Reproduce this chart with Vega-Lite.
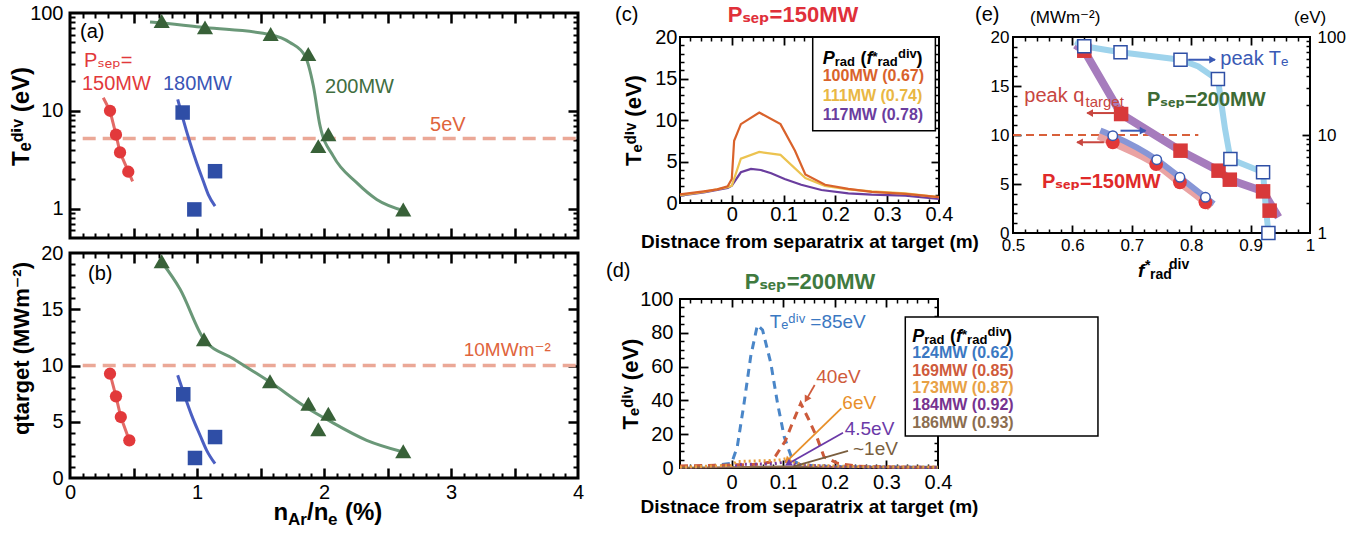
{
"$schema":"https://vega.github.io/schema/vega-lite/v6.json",
"padding":{"left":7,"top":1,"right":5,"bottom":2},
"background":"white",
"config":{"font":"Liberation Sans, DejaVu Sans, sans-serif","view":{"stroke":"black","strokeWidth":2},"axis":{"domain":false,"grid":false,"tickColor":"black","labelColor":"black","labelFlush":false,"labelOverlap":false,"titleColor":"black","titleFontWeight":"bold","minExtent":0,"maxExtent":0},"text":{"align":"left","baseline":"middle"}},
"columns":2,"align":"none","spacing":19,
"resolve":{"scale":{"color":"independent"}},
"concat":[
{"spacing":0,"resolve":{"scale":{"color":"independent"}},"vconcat":[
{"width":508,"height":225,"view":{"stroke":"black","strokeWidth":3},
"resolve":{"scale":{"x":"independent","y":"independent","color":"independent"}},
"layer":[
{"data":{"values":[{}]},"mark":{"type":"point","opacity":0},"encoding":{"x":{"datum":0,"type":"quantitative","scale":{"domain":[0,4],"nice":false,"zero":false},"axis":null},"y":{"datum":1,"type":"quantitative","scale":{"type":"log","domain":[0.5,100],"nice":false},"axis":{"orient":"left","values":[1,10,100],"format":"d","ticks":false,"labelPadding":7,"labelFontSize":20,"title":"Tₑᵈⁱᵛ (eV)","titleFontSize":24,"titlePadding":1,"titleY":103,"minExtent":36,"maxExtent":36}}}},
{"data":{"values":[{}]},"mark":{"type":"point","opacity":0},"encoding":{"x":{"datum":0,"type":"quantitative","scale":{"domain":[0,4],"nice":false,"zero":false},"axis":{"orient":"bottom","values":[0.5,1,1.5,2,2.5,3,3.5],"labels":false,"tickSize":-10,"tickWidth":2.5,"title":null}},"y":{"datum":1,"type":"quantitative","scale":{"type":"log","domain":[0.5,100],"nice":false},"axis":{"orient":"left","values":[1,10],"labels":false,"tickSize":-10,"tickWidth":2.5,"title":null}}}},
{"data":{"values":[{}]},"mark":{"type":"point","opacity":0},"encoding":{"x":{"datum":0,"type":"quantitative","scale":{"domain":[0,4],"nice":false,"zero":false},"axis":{"orient":"bottom","values":[0.1,0.2,0.3,0.4,0.6,0.7,0.8,0.9,1.1,1.2,1.3,1.4,1.6,1.7,1.8,1.9,2.1,2.2,2.3,2.4,2.6,2.7,2.8,2.9,3.1,3.2,3.3,3.4,3.6,3.7,3.8,3.9],"labels":false,"tickSize":-5,"tickWidth":2,"title":null}},"y":{"datum":1,"type":"quantitative","scale":{"type":"log","domain":[0.5,100],"nice":false},"axis":{"orient":"left","values":[0.6,0.7,0.8,0.9,2,3,4,5,6,7,8,9,20,30,40,50,60,70,80,90],"labels":false,"tickSize":-5,"tickWidth":2,"title":null}}}},
{"data":{"values":[{}]},"mark":{"type":"point","opacity":0},"encoding":{"x":{"datum":0,"type":"quantitative","scale":{"domain":[0,4],"nice":false,"zero":false},"axis":{"orient":"top","values":[0.5,1,1.5,2,2.5,3,3.5],"labels":false,"tickSize":-10,"tickWidth":2.5,"title":null}},"y":{"datum":1,"type":"quantitative","scale":{"type":"log","domain":[0.5,100],"nice":false},"axis":{"orient":"right","values":[1,10],"labels":false,"tickSize":-10,"tickWidth":2.5,"title":null}}}},
{"data":{"values":[{}]},"mark":{"type":"point","opacity":0},"encoding":{"x":{"datum":0,"type":"quantitative","scale":{"domain":[0,4],"nice":false,"zero":false},"axis":{"orient":"top","values":[0.1,0.2,0.3,0.4,0.6,0.7,0.8,0.9,1.1,1.2,1.3,1.4,1.6,1.7,1.8,1.9,2.1,2.2,2.3,2.4,2.6,2.7,2.8,2.9,3.1,3.2,3.3,3.4,3.6,3.7,3.8,3.9],"labels":false,"tickSize":-5,"tickWidth":2,"title":null}},"y":{"datum":1,"type":"quantitative","scale":{"type":"log","domain":[0.5,100],"nice":false},"axis":{"orient":"right","values":[0.6,0.7,0.8,0.9,2,3,4,5,6,7,8,9,20,30,40,50,60,70,80,90],"labels":false,"tickSize":-5,"tickWidth":2,"title":null}}}},
{"encoding":{"x":{"field":"x","type":"quantitative","scale":{"domain":[0,4],"nice":false,"zero":false},"axis":null},"y":{"field":"y","type":"quantitative","scale":{"type":"log","domain":[0.5,100],"nice":false},"axis":null}},
"layer":[
{"data":{"values":[{"x":0.1,"x2":4,"y":5.2}]},"mark":{"type":"rule","color":"#eba897","strokeWidth":3.5,"strokeDash":[13,7]},"encoding":{"x2":{"field":"x2"}}},
{"data":{"values":[{"x":0.262,"y":13.6},{"x":0.315,"y":10},{"x":0.362,"y":5.7},{"x":0.394,"y":3.75},{"x":0.459,"y":2.4},{"x":0.493,"y":1.9}]},"mark":{"type":"line","color":"#e36a66","strokeWidth":3},"encoding":{}},
{"data":{"values":[{"x":0.848,"y":13.1},{"x":0.887,"y":8.5},{"x":0.945,"y":4.72},{"x":0.997,"y":2.94},{"x":1.05,"y":1.9},{"x":1.089,"y":1.39},{"x":1.142,"y":1.06}]},"mark":{"type":"line","color":"#4b5fc2","strokeWidth":3,"interpolate":"monotone"},"encoding":{}},
{"data":{"values":[{"x":0.63,"y":81},{"x":0.722,"y":79},{"x":1.063,"y":71},{"x":1.58,"y":60},{"x":1.732,"y":50},{"x":1.85,"y":36.5},{"x":1.916,"y":18},{"x":1.969,"y":7},{"x":2.073,"y":3.44},{"x":2.257,"y":1.84},{"x":2.415,"y":1.24},{"x":2.63,"y":0.95}]},"mark":{"type":"line","color":"#6a9878","strokeWidth":3,"interpolate":"monotone"},"encoding":{}},
{"data":{"values":[{"x":0.315,"y":10},{"x":0.362,"y":5.7},{"x":0.394,"y":3.75},{"x":0.459,"y":2.38}]},"mark":{"type":"point","shape":"circle","filled":true,"size":150,"color":"#e2393b","opacity":1}},
{"data":{"values":[{"x":0.887,"y":9.6},{"x":1.142,"y":2.41},{"x":0.979,"y":0.98}]},"mark":{"type":"point","shape":"square","filled":true,"size":210,"color":"#2f4ea6","opacity":1}},
{"data":{"values":[{"x":0.722,"y":83},{"x":1.063,"y":71.3},{"x":1.58,"y":61},{"x":1.876,"y":38},{"x":1.955,"y":4.35},{"x":2.034,"y":5.74},{"x":2.624,"y":0.98}]},"mark":{"type":"point","shape":"triangle-up","filled":true,"size":260,"color":"#386138","opacity":1}},
{"data":{"values":[{"x":0.079,"y":63.9,"t":"(a)","ga":"k"},{"x":0.11,"y":32.2,"t":"Pₛₑₚ=","ga":"r"},{"x":0.094,"y":18.7,"t":"150MW","ga":"r"},{"x":0.732,"y":18.7,"t":"180MW","ga":"b"},{"x":2.008,"y":17.4,"t":"200MW","ga":"g"},{"x":2.835,"y":7.1,"t":"5eV","ga":"o"}]},"mark":{"type":"text","fontSize":20},"encoding":{"text":{"field":"t"},"color":{"field":"ga","type":"nominal","scale":{"domain":["k","r","b","g","o"],"range":["#000000","#e2393b","#3a55b5","#3f6e3f","#e0643c"]},"legend":null}}}
]}
]},
{"width":508,"height":225,"view":{"stroke":"black","strokeWidth":3},
"resolve":{"scale":{"x":"independent","y":"independent","color":"independent"}},
"layer":[
{"data":{"values":[{}]},"mark":{"type":"point","opacity":0},"encoding":{"x":{"datum":0,"type":"quantitative","scale":{"domain":[0,4],"nice":false,"zero":false},"axis":{"orient":"bottom","values":[0,1,2,3,4],"format":"d","ticks":false,"labelPadding":4,"labelFontSize":20,"title":null,"minExtent":24,"maxExtent":24}},"y":{"datum":0,"type":"quantitative","scale":{"domain":[0,20],"nice":false,"zero":false},"axis":{"orient":"left","values":[0,5,10,15,20],"ticks":false,"labelPadding":7,"labelFontSize":20,"title":"qtarget (MWm⁻²)","titleFontSize":22,"titlePadding":1,"titleY":95,"minExtent":36,"maxExtent":36}}}},
{"data":{"values":[{}]},"mark":{"type":"point","opacity":0},"encoding":{"x":{"datum":0,"type":"quantitative","scale":{"domain":[0,4],"nice":false,"zero":false},"axis":{"orient":"bottom","values":[0.5,1,1.5,2,2.5,3,3.5],"labels":false,"tickSize":-10,"tickWidth":2.5,"title":null}},"y":{"datum":0,"type":"quantitative","scale":{"domain":[0,20],"nice":false,"zero":false},"axis":{"orient":"left","values":[5,10,15],"labels":false,"tickSize":-10,"tickWidth":2.5,"title":null}}}},
{"data":{"values":[{}]},"mark":{"type":"point","opacity":0},"encoding":{"x":{"datum":0,"type":"quantitative","scale":{"domain":[0,4],"nice":false,"zero":false},"axis":{"orient":"bottom","values":[0.1,0.2,0.3,0.4,0.6,0.7,0.8,0.9,1.1,1.2,1.3,1.4,1.6,1.7,1.8,1.9,2.1,2.2,2.3,2.4,2.6,2.7,2.8,2.9,3.1,3.2,3.3,3.4,3.6,3.7,3.8,3.9],"labels":false,"tickSize":-5,"tickWidth":2,"title":null}},"y":{"datum":0,"type":"quantitative","scale":{"domain":[0,20],"nice":false,"zero":false},"axis":{"orient":"left","values":[1,2,3,4,6,7,8,9,11,12,13,14,16,17,18,19],"labels":false,"tickSize":-5,"tickWidth":2,"title":null}}}},
{"data":{"values":[{}]},"mark":{"type":"point","opacity":0},"encoding":{"x":{"datum":0,"type":"quantitative","scale":{"domain":[0,4],"nice":false,"zero":false},"axis":{"orient":"top","values":[0.5,1,1.5,2,2.5,3,3.5],"labels":false,"tickSize":-10,"tickWidth":2.5,"title":null}},"y":{"datum":0,"type":"quantitative","scale":{"domain":[0,20],"nice":false,"zero":false},"axis":{"orient":"right","values":[5,10,15],"labels":false,"tickSize":-10,"tickWidth":2.5,"title":null}}}},
{"data":{"values":[{}]},"mark":{"type":"point","opacity":0},"encoding":{"x":{"datum":0,"type":"quantitative","scale":{"domain":[0,4],"nice":false,"zero":false},"axis":{"orient":"top","values":[0.1,0.2,0.3,0.4,0.6,0.7,0.8,0.9,1.1,1.2,1.3,1.4,1.6,1.7,1.8,1.9,2.1,2.2,2.3,2.4,2.6,2.7,2.8,2.9,3.1,3.2,3.3,3.4,3.6,3.7,3.8,3.9],"labels":false,"tickSize":-5,"tickWidth":2,"title":null}},"y":{"datum":0,"type":"quantitative","scale":{"domain":[0,20],"nice":false,"zero":false},"axis":{"orient":"right","values":[1,2,3,4,6,7,8,9,11,12,13,14,16,17,18,19],"labels":false,"tickSize":-5,"tickWidth":2,"title":null}}}},
{"encoding":{"x":{"field":"x","type":"quantitative","scale":{"domain":[0,4],"nice":false,"zero":false},"axis":null},"y":{"field":"y","type":"quantitative","scale":{"domain":[0,20],"nice":false,"zero":false},"axis":null}},
"layer":[
{"data":{"values":[{"x":0.1,"x2":4,"y":10}]},"mark":{"type":"rule","color":"#eba897","strokeWidth":3.5,"strokeDash":[13,7]},"encoding":{"x2":{"field":"x2"}}},
{"data":{"values":[{"x":0.289,"y":9.6},{"x":0.315,"y":9.27},{"x":0.362,"y":7.26},{"x":0.4,"y":5.42},{"x":0.467,"y":3.35},{"x":0.486,"y":3.0}]},"mark":{"type":"line","color":"#e36a66","strokeWidth":3},"encoding":{}},
{"data":{"values":[{"x":0.848,"y":9.13},{"x":0.906,"y":7.2},{"x":0.958,"y":5.57},{"x":1.024,"y":3.8},{"x":1.076,"y":2.46},{"x":1.142,"y":1.27}]},"mark":{"type":"line","color":"#4b5fc2","strokeWidth":3,"interpolate":"monotone"},"encoding":{}},
{"data":{"values":[{"x":0.722,"y":19.2},{"x":0.866,"y":16.8},{"x":1.055,"y":12.33},{"x":1.286,"y":10.6},{"x":1.575,"y":8.53},{"x":1.877,"y":6.16},{"x":2.034,"y":5.13},{"x":2.336,"y":3.35},{"x":2.624,"y":2.31}]},"mark":{"type":"line","color":"#6a9878","strokeWidth":3,"interpolate":"monotone"},"encoding":{}},
{"data":{"values":[{"x":0.315,"y":9.27},{"x":0.362,"y":7.26},{"x":0.4,"y":5.42},{"x":0.467,"y":3.35}]},"mark":{"type":"point","shape":"circle","filled":true,"size":150,"color":"#e2393b","opacity":1}},
{"data":{"values":[{"x":0.892,"y":7.44},{"x":1.142,"y":3.64},{"x":0.984,"y":1.78}]},"mark":{"type":"point","shape":"square","filled":true,"size":210,"color":"#2f4ea6","opacity":1}},
{"data":{"values":[{"x":0.722,"y":19.26},{"x":1.055,"y":12.33},{"x":1.575,"y":8.6},{"x":1.877,"y":6.6},{"x":1.955,"y":4.33},{"x":2.034,"y":5.72},{"x":2.624,"y":2.37}]},"mark":{"type":"point","shape":"triangle-up","filled":true,"size":260,"color":"#386138","opacity":1}},
{"data":{"values":[{"x":0.142,"y":18.16,"t":"(b)"}]},"mark":{"type":"text","fontSize":20,"color":"black"},"encoding":{"text":{"field":"t"}}},
{"data":{"values":[{"x":3.1,"y":11.38,"t":"10MWm⁻²"}]},"mark":{"type":"text","fontSize":19,"color":"#e0643c"},"encoding":{"text":{"field":"t"}}},
{"data":{"values":[{"x":1.602,"y":-3.15,"t":"n"},{"x":1.866,"y":-3.15,"t":"/n"},{"x":2.165,"y":-3.15,"t":"(%)"}]},"mark":{"type":"text","fontSize":24,"fontWeight":"bold","color":"black"},"encoding":{"text":{"field":"t"}}},
{"data":{"values":[{"x":1.717,"y":-3.75,"t":"Ar"},{"x":2.031,"y":-3.75,"t":"e"}]},"mark":{"type":"text","fontSize":17,"fontWeight":"bold","color":"black"},"encoding":{"text":{"field":"t"}}}
]}
]}
]},
{"spacing":0,"resolve":{"scale":{"color":"independent"}},"vconcat":[
{"width":645,"height":1,"view":{"stroke":null},
"encoding":{"x":{"field":"x","type":"quantitative","scale":{"domain":[-0.1,1.145],"nice":false,"zero":false},"axis":null},"y":{"field":"y","type":"quantitative","scale":{"domain":[0,1],"nice":false,"zero":false},"axis":null}},
"layer":[
{"data":{"values":[{"x":-0.2255,"y":-1,"t":"(c)"},{"x":0.4695,"y":-1,"t":"(e)"}]},"mark":{"type":"text","fontSize":20,"color":"black"},"encoding":{"text":{"field":"t"}}},
{"data":{"values":[{"x":0.1181,"y":-1,"t":"Pₛₑₚ=150MW"}]},"mark":{"type":"text","fontSize":22,"fontWeight":"bold","color":"#e0303a","align":"center"},"encoding":{"text":{"field":"t"}}},
{"data":{"values":[{"x":0.5757,"y":-4,"t":"(MWm⁻²)"},{"x":1.0853,"y":-4,"t":"(eV)"}]},"mark":{"type":"text","fontSize":17,"color":"black"},"encoding":{"text":{"field":"t"}}}
]},
{"columns":2,"align":"none","spacing":-111,"resolve":{"scale":{"color":"independent"}},"concat":[
{"columns":1,"align":"none","spacing":7,"resolve":{"scale":{"color":"independent"}},"concat":[
{"width":259,"height":166,
"resolve":{"scale":{"x":"independent","y":"independent","color":"independent"}},
"layer":[
{"data":{"values":[{}]},"mark":{"type":"point","opacity":0},"encoding":{"x":{"datum":0,"type":"quantitative","scale":{"domain":[-0.1,0.4],"nice":false,"zero":false},"axis":{"orient":"bottom","values":[0,0.1,0.2,0.3,0.4],"format":".1~f","ticks":false,"labelPadding":1,"labelFontSize":20,"title":"Distnace from separatrix at target (m)","titleFontSize":19,"titlePadding":8,"minExtent":21,"maxExtent":21}},"y":{"datum":0,"type":"quantitative","scale":{"domain":[0,20],"nice":false,"zero":false},"axis":{"orient":"left","values":[0,5,10,15,20],"ticks":false,"labelPadding":3,"labelFontSize":20,"title":"Tₑᵈⁱᵛ (eV)","titleFontSize":22,"titlePadding":9,"minExtent":26,"maxExtent":26}}}},
{"data":{"values":[{}]},"mark":{"type":"point","opacity":0},"encoding":{"x":{"datum":0,"type":"quantitative","scale":{"domain":[-0.1,0.4],"nice":false,"zero":false},"axis":{"orient":"bottom","values":[0,0.1,0.2,0.3],"labels":false,"tickSize":-8,"tickWidth":1.8,"title":null}},"y":{"datum":0,"type":"quantitative","scale":{"domain":[0,20],"nice":false,"zero":false},"axis":{"orient":"left","values":[5,10,15],"labels":false,"tickSize":-8,"tickWidth":1.8,"title":null}}}},
{"data":{"values":[{}]},"mark":{"type":"point","opacity":0},"encoding":{"x":{"datum":0,"type":"quantitative","scale":{"domain":[-0.1,0.4],"nice":false,"zero":false},"axis":{"orient":"bottom","values":[-0.08,-0.06,-0.04,-0.02,0.02,0.04,0.06,0.08,0.12,0.14,0.16,0.18,0.22,0.24,0.26,0.28,0.32,0.34,0.36,0.38],"labels":false,"tickSize":-4,"tickWidth":1.5,"title":null}},"y":{"datum":0,"type":"quantitative","scale":{"domain":[0,20],"nice":false,"zero":false},"axis":{"orient":"left","values":[1,2,3,4,6,7,8,9,11,12,13,14,16,17,18,19],"labels":false,"tickSize":-4,"tickWidth":1.5,"title":null}}}},
{"data":{"values":[{}]},"mark":{"type":"point","opacity":0},"encoding":{"x":{"datum":0,"type":"quantitative","scale":{"domain":[-0.1,0.4],"nice":false,"zero":false},"axis":{"orient":"top","values":[0,0.1,0.2,0.3],"labels":false,"tickSize":-8,"tickWidth":1.8,"title":null}},"y":{"datum":0,"type":"quantitative","scale":{"domain":[0,20],"nice":false,"zero":false},"axis":{"orient":"right","values":[5,10,15],"labels":false,"tickSize":-8,"tickWidth":1.8,"title":null}}}},
{"data":{"values":[{}]},"mark":{"type":"point","opacity":0},"encoding":{"x":{"datum":0,"type":"quantitative","scale":{"domain":[-0.1,0.4],"nice":false,"zero":false},"axis":{"orient":"top","values":[-0.08,-0.06,-0.04,-0.02,0.02,0.04,0.06,0.08,0.12,0.14,0.16,0.18,0.22,0.24,0.26,0.28,0.32,0.34,0.36,0.38],"labels":false,"tickSize":-4,"tickWidth":1.5,"title":null}},"y":{"datum":0,"type":"quantitative","scale":{"domain":[0,20],"nice":false,"zero":false},"axis":{"orient":"right","values":[1,2,3,4,6,7,8,9,11,12,13,14,16,17,18,19],"labels":false,"tickSize":-4,"tickWidth":1.5,"title":null}}}},
{"encoding":{"x":{"field":"x","type":"quantitative","scale":{"domain":[-0.1,0.4],"nice":false,"zero":false},"axis":null},"y":{"field":"y","type":"quantitative","scale":{"domain":[0,20],"nice":false,"zero":false},"axis":null}},
"layer":[
{"data":{"values":[{"x":-0.1,"y":0.88},{"x":-0.054,"y":1.29},{"x":-0.008,"y":1.81},{"x":0,"y":2.09},{"x":0.0175,"y":3.7},{"x":0.037,"y":4.1},{"x":0.056,"y":3.98},{"x":0.076,"y":3.58},{"x":0.102,"y":2.9},{"x":0.134,"y":2.2},{"x":0.173,"y":1.57},{"x":0.225,"y":1.17},{"x":0.27,"y":1.0},{"x":0.335,"y":0.88},{"x":0.4,"y":0.48}]},"mark":{"type":"line","color":"#6a3d9e","strokeWidth":2.2},"encoding":{}},
{"data":{"values":[{"x":-0.1,"y":0.95},{"x":-0.054,"y":1.35},{"x":-0.008,"y":1.9},{"x":0,"y":2.1},{"x":0.0175,"y":5.35},{"x":0.053,"y":6.15},{"x":0.094,"y":5.8},{"x":0.142,"y":3.0},{"x":0.18,"y":2.05},{"x":0.225,"y":1.65},{"x":0.27,"y":1.4},{"x":0.335,"y":1.15},{"x":0.4,"y":0.7}]},"mark":{"type":"line","color":"#ecc350","strokeWidth":2.2},"encoding":{}},
{"data":{"values":[{"x":-0.1,"y":1.05},{"x":-0.054,"y":1.41},{"x":-0.028,"y":1.65},{"x":-0.008,"y":2.0},{"x":0,"y":2.9},{"x":0.0045,"y":7.5},{"x":0.0175,"y":9.5},{"x":0.053,"y":10.9},{"x":0.094,"y":9.5},{"x":0.122,"y":6.3},{"x":0.142,"y":3.45},{"x":0.18,"y":2.2},{"x":0.225,"y":1.7},{"x":0.27,"y":1.35},{"x":0.335,"y":1.1},{"x":0.4,"y":0.7}]},"mark":{"type":"line","color":"#d9622b","strokeWidth":2.2},"encoding":{}},
{"data":{"values":[{"x":0.1562,"x2":0.393,"y":8.71,"y2":19.96}]},"mark":{"type":"rect","fill":"white","stroke":"black","strokeWidth":1.5},"encoding":{"x2":{"field":"x2"},"y2":{"field":"y2"}}},
{"data":{"values":[{"x":0.1755,"y":15.34,"t":"100MW (0.67)"}]},"mark":{"type":"text","fontSize":16,"fontWeight":"bold","color":"#d9622b"},"encoding":{"text":{"field":"t"}}},
{"data":{"values":[{"x":0.1755,"y":12.86,"t":"111MW (0.74)"}]},"mark":{"type":"text","fontSize":16,"fontWeight":"bold","color":"#e9b744"},"encoding":{"text":{"field":"t"}}},
{"data":{"values":[{"x":0.1755,"y":10.6,"t":"117MW (0.78)"}]},"mark":{"type":"text","fontSize":16,"fontWeight":"bold","color":"#6a3d9e"},"encoding":{"text":{"field":"t"}}},
{"data":{"values":[{"x":0.1755,"y":16.75,"t":"P"},{"x":0.26,"y":16.75,"t":"f"}]},"mark":{"type":"text","fontSize":18,"fontWeight":"bold","fontStyle":"italic","baseline":"alphabetic","color":"black"},"encoding":{"text":{"field":"t"}}},
{"data":{"values":[{"x":0.2485,"y":16.75,"t":"("},{"x":0.3566,"y":16.75,"t":")"}]},"mark":{"type":"text","fontSize":18,"fontWeight":"bold","baseline":"alphabetic","color":"black"},"encoding":{"text":{"field":"t"}}},
{"data":{"values":[{"x":0.1987,"y":16.5,"t":"rad"},{"x":0.2716,"y":17.1,"t":"*"},{"x":0.2813,"y":16.5,"t":"rad"},{"x":0.3208,"y":17.53,"t":"div"}]},"mark":{"type":"text","fontSize":13,"fontWeight":"bold","baseline":"alphabetic","color":"black"},"encoding":{"text":{"field":"t"}}}
]}
]},
{"width":258,"height":169,
"resolve":{"scale":{"x":"independent","y":"independent","color":"independent"}},
"layer":[
{"data":{"values":[{}]},"mark":{"type":"point","opacity":0},"encoding":{"x":{"datum":0,"type":"quantitative","scale":{"domain":[-0.1,0.4],"nice":false,"zero":false},"axis":{"orient":"bottom","values":[0,0.1,0.2,0.3,0.4],"format":".1~f","ticks":false,"labelPadding":4,"labelFontSize":20,"title":"Distnace from separatrix at target (m)","titleFontSize":19,"titlePadding":5,"minExtent":24,"maxExtent":24}},"y":{"datum":0,"type":"quantitative","scale":{"domain":[0,100],"nice":false,"zero":false},"axis":{"orient":"left","values":[0,20,40,60,80,100],"ticks":false,"labelPadding":7,"labelFontSize":20,"title":"Tₑᵈⁱᵛ (eV)","titleFontSize":22,"titlePadding":7,"minExtent":31,"maxExtent":31}}}},
{"data":{"values":[{}]},"mark":{"type":"point","opacity":0},"encoding":{"x":{"datum":0,"type":"quantitative","scale":{"domain":[-0.1,0.4],"nice":false,"zero":false},"axis":{"orient":"bottom","values":[0,0.1,0.2,0.3],"labels":false,"tickSize":-8,"tickWidth":1.8,"title":null}},"y":{"datum":0,"type":"quantitative","scale":{"domain":[0,100],"nice":false,"zero":false},"axis":{"orient":"left","values":[20,40,60,80],"labels":false,"tickSize":-8,"tickWidth":1.8,"title":null}}}},
{"data":{"values":[{}]},"mark":{"type":"point","opacity":0},"encoding":{"x":{"datum":0,"type":"quantitative","scale":{"domain":[-0.1,0.4],"nice":false,"zero":false},"axis":{"orient":"bottom","values":[-0.08,-0.06,-0.04,-0.02,0.02,0.04,0.06,0.08,0.12,0.14,0.16,0.18,0.22,0.24,0.26,0.28,0.32,0.34,0.36,0.38],"labels":false,"tickSize":-4,"tickWidth":1.5,"title":null}},"y":{"datum":0,"type":"quantitative","scale":{"domain":[0,100],"nice":false,"zero":false},"axis":{"orient":"left","values":[5,10,15,25,30,35,45,50,55,65,70,75,85,90,95],"labels":false,"tickSize":-4,"tickWidth":1.5,"title":null}}}},
{"data":{"values":[{}]},"mark":{"type":"point","opacity":0},"encoding":{"x":{"datum":0,"type":"quantitative","scale":{"domain":[-0.1,0.4],"nice":false,"zero":false},"axis":{"orient":"top","values":[0,0.1,0.2,0.3],"labels":false,"tickSize":-8,"tickWidth":1.8,"title":null}},"y":{"datum":0,"type":"quantitative","scale":{"domain":[0,100],"nice":false,"zero":false},"axis":{"orient":"right","values":[20,40,60,80],"labels":false,"tickSize":-8,"tickWidth":1.8,"title":null}}}},
{"data":{"values":[{}]},"mark":{"type":"point","opacity":0},"encoding":{"x":{"datum":0,"type":"quantitative","scale":{"domain":[-0.1,0.4],"nice":false,"zero":false},"axis":{"orient":"top","values":[-0.08,-0.06,-0.04,-0.02,0.02,0.04,0.06,0.08,0.12,0.14,0.16,0.18,0.22,0.24,0.26,0.28,0.32,0.34,0.36,0.38],"labels":false,"tickSize":-4,"tickWidth":1.5,"title":null}},"y":{"datum":0,"type":"quantitative","scale":{"domain":[0,100],"nice":false,"zero":false},"axis":{"orient":"right","values":[5,10,15,25,30,35,45,50,55,65,70,75,85,90,95],"labels":false,"tickSize":-4,"tickWidth":1.5,"title":null}}}},
{"encoding":{"x":{"field":"x","type":"quantitative","scale":{"domain":[-0.1,0.4],"nice":false,"zero":false},"axis":null},"y":{"field":"y","type":"quantitative","scale":{"domain":[0,100],"nice":false,"zero":false},"axis":null}},
"resolve":{"scale":{"color":"independent"}},
"layer":[
{"data":{"values":[{"x":-0.1,"y":0.8},{"x":-0.05,"y":1.0},{"x":0,"y":2.8},{"x":0.011,"y":12.6},{"x":0.024,"y":38},{"x":0.037,"y":66},{"x":0.05,"y":84.6},{"x":0.06,"y":81.7},{"x":0.076,"y":62},{"x":0.089,"y":38.3},{"x":0.102,"y":18.5},{"x":0.118,"y":4.7},{"x":0.134,"y":1.8},{"x":0.2,"y":0.8},{"x":0.4,"y":0.4}]},"mark":{"type":"line","color":"#4a86c8","strokeWidth":3,"strokeDash":[8,6]},"encoding":{}},
{"data":{"values":[{"x":-0.1,"y":1.2},{"x":0,"y":1.8},{"x":0.05,"y":2.2},{"x":0.075,"y":3.5},{"x":0.085,"y":7},{"x":0.104,"y":16},{"x":0.115,"y":24.4},{"x":0.134,"y":38.3},{"x":0.15,"y":28.4},{"x":0.166,"y":17.6},{"x":0.179,"y":6.7},{"x":0.205,"y":2.8},{"x":0.244,"y":1.0},{"x":0.3,"y":0.6},{"x":0.4,"y":0.4}]},"mark":{"type":"line","color":"#cc5a3a","strokeWidth":3,"strokeDash":[8,6]},"encoding":{}},
{"data":{"values":[{"x":-0.1,"y":0.2},{"x":0,"y":0.4},{"x":0.1,"y":0.9},{"x":0.2,"y":0.6},{"x":0.4,"y":0.4}]},"mark":{"type":"line","color":"#8a6a4a","strokeWidth":2},"encoding":{}},
{"data":{"values":[{"x":-0.1,"y":0.3},{"x":0,"y":1.2},{"x":0.02,"y":2.2},{"x":0.08,"y":2.4},{"x":0.1,"y":3.5},{"x":0.11,"y":4.2},{"x":0.125,"y":2.0},{"x":0.2,"y":0.8},{"x":0.4,"y":0.3}]},"mark":{"type":"line","color":"#7a3a9a","strokeWidth":3,"strokeDash":[2,3]},"encoding":{}},
{"data":{"values":[{"x":-0.1,"y":0.5},{"x":0,"y":1.5},{"x":0.01,"y":3.8},{"x":0.05,"y":4.2},{"x":0.09,"y":4.6},{"x":0.105,"y":5.5},{"x":0.115,"y":4},{"x":0.13,"y":2.5},{"x":0.16,"y":1.5},{"x":0.25,"y":0.8},{"x":0.4,"y":0.5}]},"mark":{"type":"line","color":"#e8a040","strokeWidth":3,"strokeDash":[2,3]},"encoding":{}},
{"data":{"values":[{"x":0.161,"y":49.1,"x2":0.1461,"y2":41.2,"gd":"rd"},{"x":0.2126,"y":35.3,"x2":0.1093,"y2":4.7,"gd":"or"},{"x":0.2159,"y":20.9,"x2":0.1112,"y2":2.8,"gd":"pu"},{"x":0.2256,"y":10.2,"x2":0.119,"y2":0.8,"gd":"br"}]},"mark":{"type":"rule","strokeWidth":1.8},"encoding":{"x2":{"field":"x2"},"y2":{"field":"y2"},"color":{"field":"gd","type":"nominal","scale":{"domain":["bl","rd","or","pu","br"],"range":["#3b78c2","#cf5b3c","#e8902a","#6b3aa8","#7a5e3e"]},"legend":null}}},
{"data":{"values":[{"x":0.1461,"y":41.2}]},"mark":{"type":"point","shape":"triangle","filled":true,"size":60,"angle":210,"color":"#cf5b3c","opacity":1}},
{"data":{"values":[{"x":0.1093,"y":4.7}]},"mark":{"type":"point","shape":"triangle","filled":true,"size":60,"angle":226,"color":"#e8902a","opacity":1}},
{"data":{"values":[{"x":0.1112,"y":2.8}]},"mark":{"type":"point","shape":"triangle","filled":true,"size":60,"angle":240,"color":"#6b3aa8","opacity":1}},
{"data":{"values":[{"x":0.0738,"y":86.6,"t":"Tₑᵈⁱᵛ =85eV","gd":"bl"},{"x":0.1641,"y":54,"t":"40eV","gd":"rd"},{"x":0.2146,"y":38.3,"t":"6eV","gd":"or"},{"x":0.2192,"y":22.9,"t":"4.5eV","gd":"pu"},{"x":0.2353,"y":11.1,"t":"~1eV","gd":"br"}]},"mark":{"type":"text","fontSize":19},"encoding":{"text":{"field":"t"},"color":{"field":"gd","type":"nominal","scale":{"domain":["bl","rd","or","pu","br"],"range":["#3b78c2","#cf5b3c","#e8902a","#6b3aa8","#7a5e3e"]},"legend":null}}},
{"data":{"values":[{"x":-0.2434,"y":116.6,"t":"(d)"}]},"mark":{"type":"text","fontSize":20,"color":"black"},"encoding":{"text":{"field":"t"}}},
{"data":{"values":[{"x":0.152,"y":110.1,"t":"Pₛₑₚ=200MW"}]},"mark":{"type":"text","fontSize":22,"fontWeight":"bold","color":"#3f7a3f","align":"center"},"encoding":{"text":{"field":"t"}}},
{"data":{"values":[{"x":0.3366,"x2":0.71,"y":18.9,"y2":89.3}]},"mark":{"type":"rect","fill":"white","stroke":"black","strokeWidth":1.5},"encoding":{"x2":{"field":"x2"},"y2":{"field":"y2"}}},
{"data":{"values":[{"x":0.3502,"y":68.0,"t":"124MW (0.62)","gl":"bl"},{"x":0.3502,"y":57.4,"t":"169MW (0.85)","gl":"rd"},{"x":0.3502,"y":47.3,"t":"173MW (0.87)","gl":"or"},{"x":0.3502,"y":37.3,"t":"184MW (0.92)","gl":"pu"},{"x":0.3502,"y":26.6,"t":"186MW (0.93)","gl":"br"}]},"mark":{"type":"text","fontSize":16,"fontWeight":"bold"},"encoding":{"text":{"field":"t"},"color":{"field":"gl","type":"nominal","scale":{"domain":["bl","rd","or","pu","br"],"range":["#3b78c2","#cf5b3c","#e8a145","#76338f","#8b6d4f"]},"legend":null}}},
{"data":{"values":[{"x":0.3502,"y":74.6,"t":"P"},{"x":0.4351,"y":74.6,"t":"f"}]},"mark":{"type":"text","fontSize":18,"fontWeight":"bold","fontStyle":"italic","baseline":"alphabetic","color":"black"},"encoding":{"text":{"field":"t"}}},
{"data":{"values":[{"x":0.4234,"y":74.6,"t":"("},{"x":0.532,"y":74.6,"t":")"}]},"mark":{"type":"text","fontSize":18,"fontWeight":"bold","baseline":"alphabetic","color":"black"},"encoding":{"text":{"field":"t"}}},
{"data":{"values":[{"x":0.3734,"y":73.4,"t":"rad"},{"x":0.4467,"y":76.3,"t":"*"},{"x":0.4564,"y":73.4,"t":"rad"},{"x":0.4961,"y":78.4,"t":"div"}]},"mark":{"type":"text","fontSize":13,"fontWeight":"bold","baseline":"alphabetic","color":"black"},"encoding":{"text":{"field":"t"}}}
]}
]}
]},
{"width":297,"height":196,
"resolve":{"scale":{"x":"independent","y":"independent","color":"independent"}},
"layer":[
{"data":{"values":[{}]},"mark":{"type":"point","opacity":0},"encoding":{"x":{"datum":0.5,"type":"quantitative","scale":{"domain":[0.5,1],"nice":false,"zero":false},"axis":{"orient":"bottom","values":[0.5,0.6,0.7,0.8,0.9,1],"format":".1~f","ticks":false,"labelPadding":4,"labelFontSize":17,"title":null,"minExtent":21,"maxExtent":21}},"y":{"datum":0,"type":"quantitative","scale":{"domain":[0,20],"nice":false,"zero":false},"axis":{"orient":"left","values":[0,5,10,15,20],"ticks":false,"labelPadding":4,"labelFontSize":17,"title":null,"minExtent":23,"maxExtent":23}}}},
{"data":{"values":[{}]},"mark":{"type":"point","opacity":0},"encoding":{"x":{"datum":0.5,"type":"quantitative","scale":{"domain":[0.5,1],"nice":false,"zero":false},"axis":{"orient":"bottom","values":[0.6,0.7,0.8,0.9],"labels":false,"tickSize":-8,"tickWidth":1.8,"title":null}},"y":{"datum":0,"type":"quantitative","scale":{"domain":[0,20],"nice":false,"zero":false},"axis":{"orient":"left","values":[5,10,15],"labels":false,"tickSize":-8,"tickWidth":1.8,"title":null}}}},
{"data":{"values":[{}]},"mark":{"type":"point","opacity":0},"encoding":{"x":{"datum":0.5,"type":"quantitative","scale":{"domain":[0.5,1],"nice":false,"zero":false},"axis":{"orient":"bottom","values":[0.52,0.54,0.56,0.58,0.62,0.64,0.66,0.68,0.72,0.74,0.76,0.78,0.82,0.84,0.86,0.88,0.92,0.94,0.96,0.98],"labels":false,"tickSize":-4,"tickWidth":1.5,"title":null}},"y":{"datum":0,"type":"quantitative","scale":{"domain":[0,20],"nice":false,"zero":false},"axis":{"orient":"left","values":[1,2,3,4,6,7,8,9,11,12,13,14,16,17,18,19],"labels":false,"tickSize":-4,"tickWidth":1.5,"title":null}}}},
{"data":{"values":[{}]},"mark":{"type":"point","opacity":0},"encoding":{"x":{"datum":0.5,"type":"quantitative","scale":{"domain":[0.5,1],"nice":false,"zero":false},"axis":{"orient":"top","values":[0.6,0.7,0.8,0.9],"labels":false,"tickSize":-8,"tickWidth":1.8,"title":null}},"y":{"datum":1,"type":"quantitative","scale":{"type":"log","domain":[1,100],"nice":false},"axis":{"orient":"right","values":[1,10,100],"format":"d","ticks":false,"labelPadding":7,"labelFontSize":17,"title":null,"minExtent":35,"maxExtent":35}}}},
{"data":{"values":[{}]},"mark":{"type":"point","opacity":0},"encoding":{"x":{"datum":0.5,"type":"quantitative","scale":{"domain":[0.5,1],"nice":false,"zero":false},"axis":{"orient":"top","values":[0.52,0.54,0.56,0.58,0.62,0.64,0.66,0.68,0.72,0.74,0.76,0.78,0.82,0.84,0.86,0.88,0.92,0.94,0.96,0.98],"labels":false,"tickSize":-4,"tickWidth":1.5,"title":null}},"y":{"datum":1,"type":"quantitative","scale":{"type":"log","domain":[1,100],"nice":false},"axis":{"orient":"right","values":[10],"labels":false,"tickSize":-8,"tickWidth":1.8,"title":null}}}},
{"data":{"values":[{}]},"mark":{"type":"point","opacity":0},"encoding":{"x":{"datum":0.5,"type":"quantitative","scale":{"domain":[0.5,1],"nice":false,"zero":false},"axis":null},"y":{"datum":1,"type":"quantitative","scale":{"type":"log","domain":[1,100],"nice":false},"axis":{"orient":"right","values":[2,3,4,5,6,7,8,9,20,30,40,50,60,70,80,90],"labels":false,"tickSize":-4,"tickWidth":1.5,"title":null}}}},
{"encoding":{"x":{"field":"x","type":"quantitative","scale":{"domain":[0.5,1],"nice":false,"zero":false},"axis":null},"y":{"field":"y","type":"quantitative","scale":{"domain":[0,20],"nice":false,"zero":false},"axis":null}},
"layer":[
{"data":{"values":[{"x":0.5,"x2":0.812,"y":10}]},"mark":{"type":"rule","color":"#d8603a","strokeWidth":2,"strokeDash":[8,5]},"encoding":{"x2":{"field":"x2"}}},
{"data":{"values":[{"x":0.644,"y":9.93},{"x":0.668,"y":9.25},{"x":0.741,"y":7.04},{"x":0.781,"y":5.17},{"x":0.824,"y":3.13},{"x":0.833,"y":2.6}]},"mark":{"type":"line","color":"#eaa3a3","strokeWidth":8,"interpolate":"monotone"},"encoding":{}},
{"data":{"values":[{"x":0.605,"y":19.2},{"x":0.62,"y":18.6},{"x":0.682,"y":12.14},{"x":0.782,"y":8.4},{"x":0.846,"y":6.36},{"x":0.865,"y":5.44},{"x":0.921,"y":4.25},{"x":0.947,"y":1.6}]},"mark":{"type":"line","color":"#a67cbd","strokeWidth":8},"encoding":{}}
]},
{"encoding":{"x":{"field":"x","type":"quantitative","scale":{"domain":[0.5,1],"nice":false,"zero":false},"axis":null},"y":{"field":"y","type":"quantitative","scale":{"type":"log","domain":[1,100],"nice":false},"axis":null}},
"layer":[
{"data":{"values":[{"x":0.647,"y":11.1},{"x":0.668,"y":9.84},{"x":0.742,"y":5.6},{"x":0.781,"y":3.7},{"x":0.824,"y":2.31},{"x":0.838,"y":1.98}]},"mark":{"type":"line","color":"#8796d6","strokeWidth":6,"interpolate":"monotone"},"encoding":{}},
{"data":{"values":[{"x":0.605,"y":89.6},{"x":0.62,"y":80.4},{"x":0.681,"y":69.8},{"x":0.782,"y":58.7},{"x":0.812,"y":50},{"x":0.835,"y":40},{"x":0.845,"y":37.3},{"x":0.849,"y":25},{"x":0.857,"y":11.5},{"x":0.866,"y":5.69},{"x":0.921,"y":4.16},{"x":0.925,"y":2.0},{"x":0.93,"y":1.0}]},"mark":{"type":"line","color":"#9ed3ec","strokeWidth":6},"encoding":{}}
]},
{"encoding":{"x":{"field":"x","type":"quantitative","scale":{"domain":[0.5,1],"nice":false,"zero":false},"axis":null},"y":{"field":"y","type":"quantitative","scale":{"domain":[0,20],"nice":false,"zero":false},"axis":null}},
"layer":[
{"data":{"values":[{"x":0.668,"y":9.25},{"x":0.741,"y":7.04},{"x":0.781,"y":5.17},{"x":0.824,"y":3.13}]},"mark":{"type":"point","shape":"circle","filled":true,"size":190,"color":"#e23838","opacity":1}},
{"data":{"values":[{"x":0.62,"y":18.6},{"x":0.682,"y":12.14},{"x":0.782,"y":8.4},{"x":0.846,"y":6.36},{"x":0.865,"y":5.44},{"x":0.921,"y":4.25},{"x":0.932,"y":2.28}]},"mark":{"type":"point","shape":"square","filled":true,"size":210,"color":"#d8393a","opacity":1}},
{"data":{"values":[{"x":0.795,"x2":0.84,"y":17.68},{"x":0.681,"x2":0.723,"y":10.44}]},"mark":{"type":"rule","strokeWidth":2,"color":"#3a5ab5"},"encoding":{"x2":{"field":"x2"}}},
{"data":{"values":[{"x":0.625,"x2":0.672,"y":12.24},{"x":0.608,"x2":0.653,"y":9.26}]},"mark":{"type":"rule","strokeWidth":2,"color":"#c8463f"},"encoding":{"x2":{"field":"x2"}}},
{"data":{"values":[{"x":0.836,"y":17.68},{"x":0.719,"y":10.44}]},"mark":{"type":"point","shape":"triangle-right","filled":true,"size":60,"color":"#3a5ab5","opacity":1}},
{"data":{"values":[{"x":0.629,"y":12.24},{"x":0.612,"y":9.26}]},"mark":{"type":"point","shape":"triangle-left","filled":true,"size":60,"color":"#c8463f","opacity":1}},
{"data":{"values":[{"x":0.849,"y":17.76,"t":"peak Tₑ"}]},"mark":{"type":"text","fontSize":20,"color":"#3a5ab5"},"encoding":{"text":{"field":"t"}}},
{"data":{"values":[{"x":0.519,"y":13.95,"t":"peak q"}]},"mark":{"type":"text","fontSize":20,"color":"#c8463f"},"encoding":{"text":{"field":"t"}}},
{"data":{"values":[{"x":0.622,"y":13.4,"t":"target"}]},"mark":{"type":"text","fontSize":15,"color":"#c8463f"},"encoding":{"text":{"field":"t"}}},
{"data":{"values":[{"x":0.7256,"y":13.6,"t":"Pₛₑₚ=200MW"}]},"mark":{"type":"text","fontSize":20,"fontWeight":"bold","color":"#3d6b35"},"encoding":{"text":{"field":"t"}}},
{"data":{"values":[{"x":0.5488,"y":5.17,"t":"Pₛₑₚ=150MW"}]},"mark":{"type":"text","fontSize":20,"fontWeight":"bold","color":"#e02a2a"},"encoding":{"text":{"field":"t"}}},
{"data":{"values":[{"x":0.7104,"y":-3.88,"t":"f"}]},"mark":{"type":"text","fontSize":19,"fontWeight":"bold","fontStyle":"italic","color":"black"},"encoding":{"text":{"field":"t"}}},
{"data":{"values":[{"x":0.7222,"y":-3.4,"t":"*"},{"x":0.7306,"y":-4.29,"t":"rad"},{"x":0.7626,"y":-3.27,"t":"div"}]},"mark":{"type":"text","fontSize":14,"fontWeight":"bold","color":"black"},"encoding":{"text":{"field":"t"}}}
]},
{"encoding":{"x":{"field":"x","type":"quantitative","scale":{"domain":[0.5,1],"nice":false,"zero":false},"axis":null},"y":{"field":"y","type":"quantitative","scale":{"type":"log","domain":[1,100],"nice":false},"axis":null}},
"layer":[
{"data":{"values":[{"x":0.668,"y":9.84},{"x":0.742,"y":5.6},{"x":0.781,"y":3.7},{"x":0.824,"y":2.31}]},"mark":{"type":"point","shape":"circle","filled":true,"size":90,"color":"white","stroke":"#3a5ab0","strokeWidth":1.5,"opacity":1}},
{"data":{"values":[{"x":0.62,"y":80.4},{"x":0.681,"y":69.8},{"x":0.782,"y":58.7},{"x":0.845,"y":37.3},{"x":0.866,"y":5.69},{"x":0.921,"y":4.16},{"x":0.93,"y":1.0}]},"mark":{"type":"point","shape":"square","filled":true,"size":170,"color":"white","stroke":"#2f4fa5","strokeWidth":1.5,"opacity":1}}
]}
]}
]}
]}
]
}
